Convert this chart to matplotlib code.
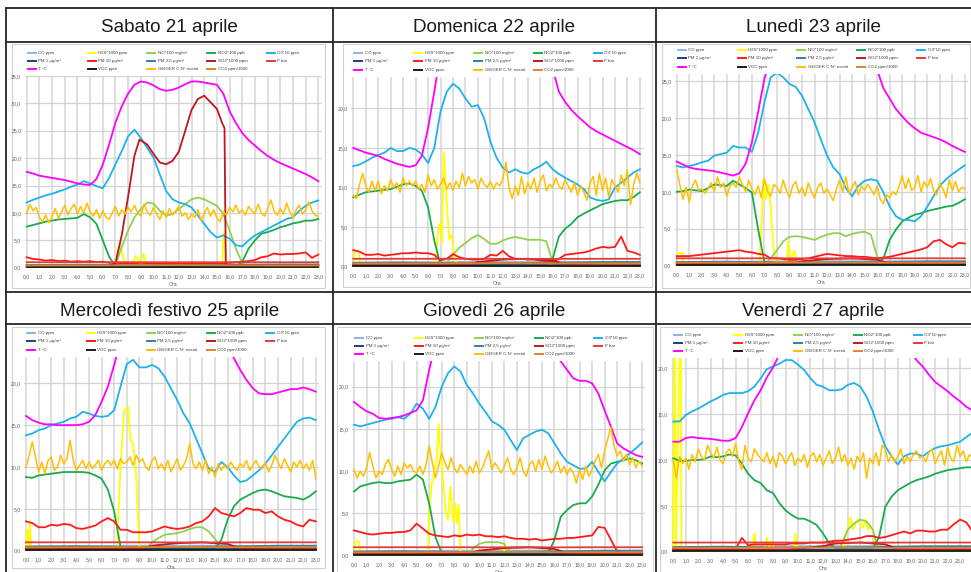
import numpy as np
import matplotlib
matplotlib.use("Agg")
import matplotlib.pyplot as plt
from matplotlib.lines import Line2D
from matplotlib.patches import Rectangle
from matplotlib.ticker import FuncFormatter

plt.rcParams['font.family'] = ['Liberation Sans', 'DejaVu Sans']

W, H = 971, 572

# ---------------- labels ----------------
titles = ["Sabato 21 aprile", "Domenica 22 aprile", "Lunedì 23 aprile",
          "Mercoledì festivo 25 aprile", "Giovedì 26 aprile", "Venerdì 27 aprile"]
series_keys = ["CO", "H2S", "NO", "NO2", "O3", "PM1", "PM10", "PM25", "SO2", "P",
               "T", "VOC", "GEIGER", "CO2"]
legend_labels = ["CO ppm", "H2S*1000 ppm", "NO*100 mg/m³", "NO2*100 ppb", "O3*10 ppm",
                 "PM 1 µg/m³", "PM 10 µg/m³", "PM 2,5 µg/m³", "SO2*1000 ppm", "P bar",
                 "T °C", "VOC ppm", "GEIGER C N° eventi", "CO2 ppm/1000"]
hour_ticks = list(range(24))

# ---------------- data: Sabato 21 ----------------
sab_T = [17.5,17.2,16.8,16.6,16.4,16.2,16.0,15.7,15.4,15.2, 15.1,16.2,18.8,22.5,26.5,29.5,31.8,33.4,34.0,33.8,
         33.3,32.6,32.3,32.5,32.9,33.5,34.0,34.0,33.8,33.6, 33.4,31.8,28.6,26.4,24.6,23.3,22.3,21.3,20.4,19.7,
         19.1,18.6,18.1,17.6,17.1,16.5,15.8]
sab_O3 = [11.9,12.4,12.8,13.2,13.5,13.9,14.3,14.8,15.2,15.8, 15.4,14.9,14.5,16.4,18.9,21.3,24.0,25.2,23.7,21.9,
          20.1,17.0,14.0,12.5,11.9,11.6,11.0,9.5,8.0,6.5, 5.5,5.9,5.3,4.1,3.9,5.0,5.9,6.5,7.1,7.7,
          8.3,8.9,9.2,10.4,11.3,11.9,12.3]
sab_NO2 = [7.5,7.8,8.1,8.4,8.6,8.8,8.9,9.0,9.1,9.8, 9.2,8.0,5.0,2.0,0.3,0.2,0.2,0.2,0.2,0.2,
           0.2,0.2,0.2,0.2,0.2,0.2,0.2,0.2,0.2,0.2, 0.2,0.2,0.2,0.2,1.1,3.5,5.0,6.2,6.5,6.9,
           7.4,7.7,8.1,8.3,8.6,8.6,8.9]
sab_NO = [0.1,0.1,0.1,0.1,0.1,0.1,0.1,0.1,0.1,0.1, 0.1,0.1,0.1,0.1,0.5,3.8,6.8,9.2,10.7,11.9,
          11.7,10.4,9.5,9.8,10.7,11.6,12.5,12.8,12.5,11.9, 11.3,9.8,6.8,3.5,0.8,0.1,0.1,0.1,0.1,0.1,
          0.1,0.1,0.1,0.1,0.1,0.1,0.1]
sab_PM10 = [1.9,1.6,1.5,1.3,1.4,1.2,1.3,1.1,1.2,1.1, 1.2,1.0,1.1,0.9,0.9,0.8,0.8,0.8,0.9,0.8,
            0.8,0.7,0.8,0.7,0.8,0.7,0.8,0.7,0.8,0.7, 0.8,0.8,0.9,1.0,1.1,1.2,1.4,1.9,2.1,2.6,
            2.4,2.5,2.5,2.6,2.8,1.8,2.4]
sab_SO2_x = [0, 6.5, 7.0, 7.5, 8.0, 8.5, 8.9, 9.5, 10, 10.5, 11, 11.5, 12, 12.5, 13, 13.5, 14.0, 14.5,
             15.0, 15.4, 15.6, 15.7, 16.0, 23.0]
sab_SO2 = [0.3, 0.3, 0.8, 6.0, 13.0, 20.5, 23.4, 22.5, 20.8, 19.2, 18.9, 19.5, 21.2, 25.0, 28.8, 30.8,
           31.4, 30.2, 29.0, 26.5, 25.5, 0.5, 0.4, 0.4]
sab_H2S_x = [0, 6.9, 7.1, 7.3, 7.5, 7.7, 7.9, 8.3, 8.6, 8.8, 9.0, 9.2, 9.4, 9.6, 15.4, 15.55, 15.65, 15.8, 23.0]
sab_H2S = [0, 0, 2.0, 4.5, 3.0, 1.2, 0.5, 0.3, 2.2, 1.4, 0.6, 2.6, 1.0, 0.2, 0, 6.5, 4.0, 0, 0]
sab_GEIGER = [9.8,11.6,10.4,11.0,9.2,8.4,9.6,8.2,9.4,10.8,9.0,10.2,11.4,9.6,10.8,11.6,9.8,11.2,10.0,11.8,
              10.2,9.4,10.6,9.0,10.4,9.2,8.8,10.0,11.2,9.4,10.6,9.8,11.0,10.2,11.4,10.0,9.4,11.6,10.2,9.6,
              11.0,9.8,8.8,10.4,9.2,10.8,9.6,10.4,11.2,9.4,10.0,8.8,9.8,9.2,10.6,8.6,9.8,11.0,9.4,10.6,
              9.0,8.4,10.2,9.6,11.0,10.2,11.4,10.0,10.6,9.6,11.2,10.4,9.8,11.6,10.0,9.4,10.8,12.4,10.4,9.6,
              10.8,9.8,11.8,10.2,9.0,10.6,11.4,9.8,10.6,12.0,10.4,9.6,9.4]

# ---------------- data: Domenica 22 ----------------
dom_T = [15.0,14.7,14.4,14.2,14.0,13.6,13.3,13.0,12.8,12.6, 12.8,14.0,17.5,22.1,27.0,29.0,30.5,31.5,32.0,32.5,
         33.0,33.0,33.0,33.0,33.0,33.0,32.5,32.0,31.5,31.0, 30.0,28.0,25.0,22.1,20.8,19.8,19.0,18.3,17.6,17.1,
         16.7,16.3,15.9,15.5,15.1,14.7,14.2]
dom_O3 = [12.7,12.9,13.3,13.75,14.1,14.4,15.0,14.6,14.6,15.0, 14.8,14.2,13.1,15.0,19.6,22.1,23.1,22.5,21.25,20.2,
          20.4,18.75,15.8,13.75,12.5,11.9,12.3,11.9,11.75,12.3, 12.7,13.25,12.3,11.7,11.25,10.8,10.4,9.8,8.75,8.45,
          8.3,8.5,10.0,10.6,11.25,11.9,12.3]
dom_NO2 = [8.75,9.1,9.4,9.5,9.6,9.7,9.8,10.1,10.4,10.5, 10.2,9.6,7.5,3.3,0.2,0.2,0.2,0.2,0.2,0.2,
           0.2,0.2,0.2,0.2,0.2,0.2,0.2,0.2,0.2,0.2, 0.2,0.2,1.0,3.8,4.8,5.4,6.25,6.7,7.1,7.5,
           7.9,8.1,8.3,8.4,8.4,8.8,9.4]
dom_NO = [0.1,0.1,0.1,0.1,0.1,0.1,0.1,0.1,0.1,0.1, 0.1,0.1,0.1,0.1,0.1,0.5,1.5,2.4,3.0,3.6,
          4.0,3.5,2.9,2.9,3.3,3.6,3.75,3.6,3.4,3.4, 3.4,3.2,0.5,0.1,0.1,0.1,0.1,0.1,0.1,0.1,
          0.1,0.1,0.1,0.1,0.1,0.1,0.1]
dom_PM10 = [2.1,1.9,1.5,1.5,1.6,1.4,1.5,1.6,1.7,1.7, 1.8,1.7,1.7,1.5,0.8,1.0,1.6,1.2,1.0,0.9,
            0.9,1.0,1.5,1.4,2.0,1.3,1.0,1.0,0.9,0.9, 0.8,0.7,0.6,1.0,1.5,1.6,1.7,1.8,2.0,2.3,
            2.5,2.4,2.5,3.8,2.0,1.8,1.5]
dom_H2S_x = [0, 0.1, 0.3, 0.45, 0.55, 0.7, 6.6, 6.8, 7.0, 7.1, 7.25, 7.5, 7.7, 7.9, 8.1, 8.3, 23.0]
dom_H2S = [0, 2.0, 2.0, 1.8, 0.2, 0, 0, 4.5, 5.5, 3.0, 14.5, 8.0, 3.5, 4.0, 1.5, 0.2, 0]
dom_GEIGER = [9.0,8.6,10.4,11.8,10.2,9.4,10.8,9.6,10.8,9.2,10.2,9.6,11.0,10.0,10.6,9.4,11.2,10.2,10.8,10.2,
              10.8,9.8,10.4,9.4,11.6,10.2,11.0,9.8,10.4,11.2,9.8,10.6,9.6,10.8,10.0,11.8,10.2,11.4,10.6,11.0,
              9.8,11.2,10.4,10.0,10.8,9.8,10.6,10.2,11.0,13.2,10.0,8.6,10.2,9.0,11.4,9.2,10.6,9.8,11.2,9.4,
              10.8,11.6,9.6,10.4,10.0,11.2,10.2,9.8,11.0,10.2,9.4,10.6,9.0,10.2,9.4,8.4,10.6,11.4,9.0,11.8,
              9.6,11.2,8.8,11.0,10.2,9.4,11.6,10.2,12.2,7.8,10.4,11.8,10.6]

# ---------------- data: Lunedì 23 ----------------
lun_T = [14.1,13.7,13.3,13.1,13.0,12.9,12.8,12.6,12.4,12.2, 12.5,13.8,16.7,20.8,25.3,28.0,30.0,31.0,32.0,32.5,
         33.0,33.0,33.0,33.0,33.0,33.0,32.5,32.0,31.5,31.0, 30.5,30.0,26.5,24.0,22.6,21.2,20.2,19.3,18.6,18.0,
         17.7,17.4,17.1,16.7,16.2,15.8,15.4]
lun_O3 = [13.5,13.3,13.5,13.7,14.0,14.2,14.9,15.1,15.3,16.2, 16.0,16.0,15.4,18.0,22.1,25.5,26.1,25.5,24.6,24.2,
          23.0,21.2,19.4,17.1,14.9,13.3,12.4,10.5,9.4,10.8, 11.5,11.7,11.5,9.9,8.0,6.7,6.2,6.2,6.0,6.7,
          8.0,9.4,10.8,11.7,12.4,13.0,13.6]
lun_NO2 = [10.0,10.1,10.3,10.2,10.1,10.5,11.0,10.9,10.8,11.5, 11.0,10.5,9.9,4.9,0.5,0.3,0.3,0.3,0.3,0.3,
           0.3,0.3,0.3,0.3,0.3,0.3,0.3,0.3,0.3,0.3, 0.3,0.3,0.3,1.0,3.5,4.9,6.0,6.5,6.9,7.1,
           7.4,7.6,7.8,8.0,8.1,8.5,9.0]
lun_NO = [0.1,0.1,0.1,0.1,0.1,0.1,0.1,0.1,0.1,0.1, 0.1,0.1,0.1,0.1,0.1,1.0,2.1,3.3,3.9,4.0,
          3.9,3.7,3.5,3.9,4.2,4.4,4.4,4.0,4.3,4.5, 4.6,4.2,1.2,0.1,0.1,0.1,0.1,0.1,0.1,0.1,
          0.1,0.1,0.1,0.1,0.1,0.1,0.1]
lun_PM10 = [1.3,1.3,1.3,1.4,1.5,1.6,1.7,1.8,1.9,2.0, 2.1,1.9,1.8,1.6,1.5,1.0,1.0,0.9,0.8,0.8,
            0.9,1.0,1.2,1.4,1.6,1.5,1.4,1.3,1.3,1.2, 1.2,1.1,1.0,1.1,1.2,1.4,1.6,1.8,2.0,2.2,
            2.5,3.3,3.5,2.9,2.5,3.1,3.0]
lun_H2S_x = [0, 0.5, 0.55, 6.6, 6.8, 6.9, 7.1, 7.3, 7.5, 7.7, 7.9, 8.8, 8.9, 9.1, 9.4, 9.6, 23.0]
lun_H2S = [1.7, 1.7, 0, 0, 6.0, 11.7, 9.0, 11.0, 8.0, 3.0, 0.5, 0.5, 3.3, 1.0, 2.0, 0.3, 0]
lun_GEIGER = [13.0,11.0,9.0,10.6,8.6,10.8,11.6,10.2,10.4,9.8,10.4,11.2,10.0,12.0,10.6,11.2,9.4,10.8,11.2,10.6,
              12.0,11.0,10.0,11.6,10.4,9.6,10.8,9.2,11.8,10.0,9.4,11.0,10.6,9.8,11.6,10.2,9.2,10.8,11.4,9.8,
              10.6,9.4,11.2,10.0,9.2,10.6,11.2,9.8,10.4,9.6,8.8,10.4,11.6,10.0,12.0,9.8,10.6,11.4,9.6,10.8,
              10.2,11.0,10.4,9.6,10.8,9.0,8.4,9.6,9.2,10.0,9.6,10.8,12.2,10.4,11.8,10.2,10.6,12.2,10.0,11.4,
              10.6,11.8,10.2,9.6,11.2,10.4,9.2,11.6,10.2,11.4,10.0,10.6,10.4]

# ---------------- data: Mercoledì 25 ----------------
mer_T = [16.1,15.6,15.3,15.1,15.1,15.0,15.0,15.0,15.0,15.1, 15.4,16.2,17.8,19.6,22.2,25.0,28.0,30.0,31.0,32.0,
         32.0,32.0,32.0,32.0,32.0,32.0,31.5,31.0,30.0,29.0, 27.5,26.0,24.5,23.0,21.6,20.4,19.4,18.8,18.7,18.7,
         18.9,19.1,19.3,19.3,19.5,19.3,19.0]
mer_O3 = [13.8,14.0,14.4,14.6,15.0,15.2,15.4,15.8,16.0,16.6, 16.4,16.1,16.0,16.1,16.8,19.6,22.3,22.8,21.9,21.9,
          22.2,21.8,20.8,19.4,18.0,16.4,15.2,13.4,11.6,9.8, 9.4,10.6,10.0,9.0,8.2,8.4,9.0,9.6,10.4,11.4,
          12.4,13.4,14.4,15.4,15.8,15.9,15.6]
mer_NO2 = [8.8,8.7,9.0,9.1,9.2,9.3,9.4,9.4,9.4,9.4, 9.3,9.0,8.6,7.3,4.7,0.5,0.3,0.3,0.3,0.3,
           0.3,0.3,0.3,0.3,0.3,0.3,0.3,0.3,0.3,0.3, 0.3,1.3,3.7,5.3,6.1,6.5,6.9,7.2,7.3,7.1,
           6.8,6.5,6.4,6.3,6.1,6.5,7.1]
mer_NO = [0.1,0.1,0.1,0.1,0.1,0.1,0.1,0.1,0.1,0.1, 0.1,0.1,0.1,0.1,0.1,0.1,0.1,0.1,0.1,0.1,
          1.0,1.5,1.9,2.0,2.1,2.3,2.6,2.8,2.8,2.3, 1.4,0.3,0.1,0.1,0.1,0.1,0.1,0.1,0.1,0.1,
          0.1,0.1,0.1,0.1,0.1,0.1,0.1]
mer_PM10 = [3.5,3.3,2.8,2.8,3.1,3.0,3.2,3.1,2.7,2.6, 2.8,3.0,3.5,3.9,3.5,2.5,2.5,2.2,2.2,2.2,
            2.3,2.6,2.9,2.7,2.6,2.7,2.9,3.3,3.5,4.1, 5.1,4.5,4.3,4.1,4.5,5.1,4.9,4.9,4.5,4.7,
            4.1,3.7,3.5,3.1,2.9,3.7,3.5]
mer_H2S_x = [0, 0.1, 0.2, 0.3, 0.4, 0.5, 7.2, 7.5, 7.8, 8.1, 8.3, 8.5, 8.7, 9.0, 9.1, 23.0]
mer_H2S = [0, 2.5, 0.5, 3.5, 0.3, 0, 0, 10.0, 16.8, 17.2, 13.2, 12.8, 10.0, 0.5, 0, 0]
mer_GEIGER = [10.0,11.4,13.0,11.2,9.4,10.6,9.2,10.8,11.2,9.6,10.0,11.4,10.4,11.0,13.2,10.8,9.6,10.2,10.8,9.8,
              10.6,9.8,10.2,10.8,9.6,10.4,10.8,10.2,10.8,9.8,11.0,10.4,10.6,11.2,10.2,11.4,10.6,11.0,10.0,9.6,
              10.8,11.2,9.8,10.4,9.6,10.8,9.4,10.2,11.0,9.6,10.2,11.0,12.8,10.4,9.8,10.6,9.6,10.8,9.2,10.0,
              8.8,10.4,9.6,10.2,9.8,10.6,10.0,9.6,10.4,10.0,10.8,9.6,10.2,10.8,10.0,9.8,10.6,9.4,10.2,11.4,
              10.6,9.8,11.0,10.2,9.4,10.6,10.0,10.8,9.8,10.4,9.6,10.8,8.6]

# ---------------- data: Giovedì 26 ----------------
gio_T = [18.2,17.6,17.1,16.8,16.3,16.2,16.3,16.4,16.6,16.9, 17.2,18.4,22.0,25.0,28.0,30.0,31.0,32.0,32.0,32.0,
         32.0,32.0,32.0,32.0,32.0,31.5,31.0,30.0,29.0,28.0, 27.0,25.5,24.0,23.0,22.0,21.0,20.7,20.7,20.4,19.2,
         17.2,15.3,13.3,12.7,12.3,11.9,11.7]
gio_O3 = [15.5,15.3,15.5,15.7,15.9,16.1,16.2,16.4,16.2,16.8, 18.0,17.4,16.2,17.6,20.0,21.6,22.4,21.8,20.2,19.2,
          18.0,17.0,15.9,15.5,14.9,13.7,12.5,13.9,14.3,14.7, 14.9,14.5,13.3,12.1,11.1,10.7,10.3,10.3,11.1,9.9,
          8.8,9.9,10.9,11.5,12.1,12.7,13.4]
gio_NO2 = [7.6,8.2,8.4,8.6,8.7,8.6,8.6,8.8,8.9,9.0, 9.6,9.0,6.2,2.2,0.3,0.3,0.3,0.3,0.3,0.3,
           0.3,0.3,0.3,0.3,0.3,0.3,0.3,0.3,0.3,0.3, 0.3,0.3,1.9,4.6,5.4,6.0,6.2,6.2,7.0,8.4,
           10.1,10.9,11.1,11.3,11.5,11.3,10.9]
gio_NO_x = [0, 9.2, 9.5, 10, 10.5, 11, 11.5, 12, 12.2, 12.5, 13, 14, 15, 15.5, 15.9, 23]
gio_NO = [0.1, 0.1, 0.9, 1.4, 1.6, 1.6, 1.6, 1.4, 0.5, 1.0, 1.0, 1.0, 1.0, 0.9, 0.2, 0.1]
gio_PM10 = [3.0,2.8,2.6,2.5,2.6,2.7,2.7,2.8,2.8,3.0, 3.8,3.2,2.6,2.4,2.3,2.2,2.4,2.3,2.5,2.4,
            2.5,2.3,2.3,2.2,2.3,2.1,2.0,2.0,1.9,2.0, 1.8,1.9,2.0,2.0,2.1,2.1,2.2,2.3,2.4,3.4,
            3.3,1.9,0.5,0.3,0.3,0.3,0.3]
gio_H2S_x = [0, 0.1, 0.4, 0.5, 5.9, 6.0, 6.2, 6.4, 6.6, 6.75, 6.9, 7.1, 7.3, 7.5, 7.7, 7.9, 8.1, 8.2,
             8.35, 8.5, 11.9, 12.0, 12.1, 23]
gio_H2S = [0, 1.7, 1.7, 0, 0, 5.4, 8.5, 10.0, 11.5, 15.6, 12.5, 9.0, 5.5, 4.2, 8.2, 4.0, 6.2, 3.8,
           6.0, 0.3, 0, 1.5, 0, 0]
gio_GEIGER = [10.2,9.2,10.0,9.4,10.4,12.2,10.6,9.2,10.0,9.6,10.8,11.4,10.2,9.4,10.6,9.6,11.0,10.4,10.8,10.0,
              9.8,10.6,9.6,10.8,13.0,11.0,9.2,10.6,12.2,11.0,10.2,11.6,10.4,9.8,10.8,10.2,9.6,10.6,9.8,11.2,
              9.8,10.4,11.4,12.4,10.2,11.0,10.4,9.8,10.6,11.6,10.2,9.6,10.4,11.6,10.0,9.4,10.8,11.2,10.0,11.4,
              10.2,11.8,10.6,9.8,10.4,11.2,9.8,10.6,9.6,10.4,9.8,8.6,10.2,9.0,10.6,9.4,10.2,11.2,12.0,10.4,
              12.4,13.8,15.2,13.0,11.8,12.4,11.2,12.0,10.8,11.6,10.4,11.2,10.6]

# ---------------- data: Venerdì 27 ----------------
ven_T = [12.0,12.0,12.4,12.5,12.4,12.35,12.3,12.2,12.1,12.1, 12.4,13.6,15.1,16.5,17.6,19.0,20.1,21.5,23.0,24.0,
         25.0,26.0,27.0,27.5,28.0,28.0,28.0,28.0,27.5,27.0, 26.5,26.0,25.5,25.0,24.5,24.0,23.5,22.8,21.8,20.9,
         20.2,19.3,18.5,18.0,17.5,16.9,16.4,15.8,15.4]
ven_O3 = [14.2,14.2,14.9,15.3,15.6,16.0,16.4,16.7,17.1,17.3, 17.3,17.3,17.5,18.0,18.9,19.9,20.2,20.5,20.9,20.9,
          20.4,19.8,18.9,18.2,18.0,17.6,17.6,17.7,18.2,18.4, 18.0,16.9,15.3,13.3,11.5,10.4,9.5,10.4,10.7,10.7,
          10.4,10.9,11.3,11.5,11.6,11.8,12.0,12.5,13.0]
ven_NO2 = [10.2,9.9,9.9,10.0,10.0,10.1,10.4,10.3,10.4,10.6, 10.5,9.6,8.5,7.8,7.5,6.7,6.4,5.3,4.5,4.0,
           3.6,3.6,3.3,2.9,2.0,0.9,0.4,0.3,0.3,0.3, 0.3,0.3,0.3,1.6,4.9,6.0,6.7,7.1,7.5,7.8,
           8.0,8.2,8.5,8.7,8.9,9.0,9.1,9.2,9.2]
ven_NO_x = [0, 13.3, 13.5, 14, 14.5, 15, 15.5, 16, 16.3, 16.5, 24]
ven_NO = [0.1, 0.1, 0.9, 2.4, 3.1, 3.5, 3.3, 2.4, 0.9, 0.2, 0.1]
ven_PM10 = [0.3,0.3,0.3,0.3,0.3,0.3,0.3,0.3,0.3,0.3, 0.3,1.5,0.7,0.8,0.8,0.8,0.8,0.8,0.8,0.9,
            0.9,0.9,1.0,1.0,1.0,1.1,1.2,1.2,1.3,1.4, 1.5,1.7,1.7,1.5,1.6,1.8,2.0,2.2,2.0,2.3,
            2.3,2.2,2.2,2.4,2.4,3.0,3.5,3.2,2.2]
ven_H2S_x = [0, 0.1, 0.15, 0.2, 0.55, 0.6, 0.65, 5.8, 6.0, 6.2, 6.4, 6.5, 6.7, 7.3, 7.5, 7.7, 7.9, 8.1, 8.3,
             9.7, 9.8, 9.95, 13.6, 13.8, 14.0, 14.2, 14.4, 14.6, 14.8, 15.0, 15.2, 15.4, 15.6, 15.8, 16.0,
             16.2, 16.4, 24]
ven_H2S = [0, 25, 25, 0, 25, 25, 0, 0, 1.0, 0.2, 0.8, 2.0, 0.3, 0.3, 1.5, 0.3, 1.2, 0.3, 0,
           0, 2.0, 0, 0, 1.6, 2.5, 3.8, 2.4, 3.0, 3.5, 3.1, 2.6, 3.5, 2.4, 2.8, 2.4, 0.9, 0, 0]
ven_GEIGER = [10.0,8.0,10.4,9.6,10.2,9.0,10.6,9.8,11.2,10.4,10.0,11.6,10.8,10.2,11.4,10.0,9.6,10.8,11.2,10.4,
              11.8,9.8,9.0,11.6,10.2,9.8,11.2,10.6,10.2,9.8,10.8,9.6,10.4,9.2,10.8,10.4,9.6,10.2,10.8,9.4,
              10.2,9.8,10.6,9.2,10.4,10.8,9.8,10.6,9.4,10.2,11.0,9.6,10.2,11.4,9.8,10.6,9.4,10.2,9.0,10.4,
              9.8,10.8,8.0,10.2,9.6,10.8,9.4,11.6,11.2,9.8,10.6,9.8,10.4,11.2,9.6,10.4,9.8,10.6,11.0,10.2,
              10.4,9.8,10.8,11.2,9.6,10.4,11.0,9.4,11.4,10.2,9.8,11.6,10.4,11.0,9.8,10.6,10.2]

# ---------------- low-level series (sparse readings) ----------------
low_x = [0, 4, 8, 12, 16, 20, 23]
low_x6 = [0, 4, 8, 12, 16, 20, 24]
low_CO = [0.5, 0.5, 0.6, 0.6, 0.6, 0.5, 0.5]
low_PM1 = [0.25, 0.25, 0.2, 0.2, 0.2, 0.3, 0.3]
low_PM25 = [0.5, 0.55, 0.45, 0.45, 0.5, 0.6, 0.6]
low_VOC = [0.05, 0.05, 0.05, 0.05, 0.05, 0.05, 0.05]
low_CO2 = [0.4, 0.4, 0.42, 0.45, 0.42, 0.4, 0.4]
low_P = [1.0, 1.0, 1.0, 0.99, 0.99, 1.0, 1.0]
so2_x = [0, 9, 10, 12, 14, 16, 17, 23]
so2_x6 = [0, 9, 12, 13, 15, 17, 18, 24]
so2_low = [0.2, 0.2, 0.6, 0.9, 1.0, 0.8, 0.3, 0.2]

colors = {"CO": "#8db4e2", "H2S": "#ffff00", "NO": "#92d050", "NO2": "#1aac4c", "O3": "#1fb2ea",
          "PM1": "#1f3d7a", "PM10": "#ff1a1a", "PM25": "#31849b", "SO2": "#c0161c", "P": "#e23b3b",
          "T": "#ff00ff", "VOC": "#1a1a1a", "GEIGER": "#ffc000", "CO2": "#e3812b"}


def hh(v):
    return (np.arange(len(v)) * 0.5, v)


def qh(v):
    return (np.arange(len(v)) * 0.25, v)


def panel_series(T, O3, NO2, NO, PM10, H2S, SO2, GEIGER, lx):
    return {"CO": (lx, low_CO), "H2S": H2S, "NO": NO, "NO2": NO2, "O3": O3,
            "PM1": (lx, low_PM1), "PM10": PM10, "PM25": (lx, low_PM25), "SO2": SO2,
            "P": (lx, low_P), "T": T, "VOC": (lx, low_VOC), "GEIGER": GEIGER, "CO2": (lx, low_CO2)}


panels_data = [
    panel_series(hh(sab_T), hh(sab_O3), hh(sab_NO2), hh(sab_NO), hh(sab_PM10), (sab_H2S_x, sab_H2S),
                 (sab_SO2_x, sab_SO2), qh(sab_GEIGER), low_x),
    panel_series(hh(dom_T), hh(dom_O3), hh(dom_NO2), hh(dom_NO), hh(dom_PM10), (dom_H2S_x, dom_H2S),
                 (so2_x, so2_low), qh(dom_GEIGER), low_x),
    panel_series(hh(lun_T), hh(lun_O3), hh(lun_NO2), hh(lun_NO), hh(lun_PM10), (lun_H2S_x, lun_H2S),
                 (so2_x, so2_low), qh(lun_GEIGER), low_x),
    panel_series(hh(mer_T), hh(mer_O3), hh(mer_NO2), hh(mer_NO), hh(mer_PM10), (mer_H2S_x, mer_H2S),
                 (so2_x, so2_low), qh(mer_GEIGER), low_x),
    panel_series(hh(gio_T), hh(gio_O3), hh(gio_NO2), (gio_NO_x, gio_NO), hh(gio_PM10), (gio_H2S_x, gio_H2S),
                 (so2_x, so2_low), qh(gio_GEIGER), low_x),
    panel_series(hh(ven_T), hh(ven_O3), hh(ven_NO2), (ven_NO_x, ven_NO), hh(ven_PM10), (ven_H2S_x, ven_H2S),
                 (so2_x6, so2_low), qh(ven_GEIGER), low_x6),
]

# ---------------- layout (pixels) ----------------
# x0: px of hour 0, pph: px per hour, y0: px of value 0, ppu: px per unit
geom = [
    dict(x0=26.7, pph=12.68, xlim=(-0.15, 23.25), y0=267.7, ppu=5.477, ymax=35.0, box=(12, 44, 325, 288)),
    dict(x0=353.3, pph=12.46, xlim=(-0.15, 23.3), y0=266.7, ppu=7.92, ymax=24.0, box=(343, 44, 652, 287)),
    dict(x0=676.7, pph=12.53, xlim=(-0.15, 23.25), y0=265.7, ppu=7.388, ymax=26.0, box=(662, 44, 970, 288)),
    dict(x0=26.0, pph=12.6, xlim=(-0.15, 23.25), y0=550.7, ppu=8.37, ymax=23.2, box=(12, 327, 325, 568)),
    dict(x0=354.0, pph=12.53, xlim=(-0.15, 23.25), y0=555.7, ppu=8.45, ymax=23.0, box=(337, 327, 653, 575)),
    dict(x0=673.3, pph=12.47, xlim=(-0.15, 24.1), y0=551.7, ppu=9.17, ymax=21.1, box=(660, 327, 975, 575)),
]
title_pos = [(169.5, 31.5), (494.5, 31.5), (813.5, 31.5), (169.5, 316.5), (494.5, 316.5), (813.5, 316.5)]


def fx(x):
    return x / W


def fy(y):
    return 1 - y / H


fig = plt.figure(figsize=(W / 100, H / 100), dpi=100)
fig.patch.set_facecolor("white")

# table lines
line_col = "#262626"
for y in [8, 42, 292, 324]:
    fig.add_artist(Line2D([fx(6), fx(971)], [fy(y), fy(y)], transform=fig.transFigure, color=line_col, lw=1.3))
for x in [6, 333, 656]:
    fig.add_artist(Line2D([fx(x), fx(x)], [fy(8), fy(572)], transform=fig.transFigure, color=line_col, lw=1.3))

for t, (tx, ty) in zip(titles, title_pos):
    fig.text(fx(tx), fy(ty), t, ha="center", va="baseline", fontsize=13.6, color="#1a1a1a")

fmt = FuncFormatter(lambda v, p: f"{v:.1f}".replace(".", ","))

for g, data in zip(geom, panels_data):
    bx0, by0, bx1, by1 = g["box"]
    fig.add_artist(Rectangle((fx(bx0), fy(by1)), (bx1 - bx0) / W, (by1 - by0) / H,
                             transform=fig.transFigure, fill=True, facecolor="white",
                             edgecolor="#d0d0d0", lw=0.8, zorder=0))
    left = g["x0"] + g["xlim"][0] * g["pph"]
    right = g["x0"] + g["xlim"][1] * g["pph"]
    bottom = g["y0"]
    top = g["y0"] - g["ymax"] * g["ppu"]
    ax = fig.add_axes([fx(left), fy(bottom), (right - left) / W, (bottom - top) / H])
    ax.set_facecolor("none")
    ax.set_xlim(*g["xlim"])
    ax.set_ylim(0, g["ymax"])
    ax.set_xticks(hour_ticks)
    ax.set_yticks(np.arange(0, g["ymax"] + 0.01, 5))
    ax.xaxis.set_major_formatter(fmt)
    ax.yaxis.set_major_formatter(fmt)
    ax.grid(True, axis="x", color="#dcdcdc", lw=1.3)
    ax.grid(True, axis="y", color="#d4d4d4", lw=0.9)
    ax.set_axisbelow(True)
    for s in ax.spines.values():
        s.set_visible(False)
    ax.tick_params(axis="both", length=0, labelsize=3.7, colors="#606060")
    ax.tick_params(axis="x", pad=4.5)
    ax.tick_params(axis="y", pad=2.5)
    ax.set_xlabel("Ora", fontsize=3.7, color="#606060", labelpad=2)

    for key in series_keys:
        xs, ys = data[key]
        lw = 1.1 if key == "GEIGER" else 1.3
        ax.plot(xs, ys, color=colors[key], lw=lw, solid_joinstyle="round")

    # legend (3 rows x 5 columns)
    for i, (key, lab) in enumerate(zip(series_keys, legend_labels)):
        r, c = divmod(i, 5)
        lx = left + 3 + 59.8 * c
        ly = top - 23.5 + 8.3 * r
        fig.add_artist(Line2D([fx(lx), fx(lx + 8)], [fy(ly), fy(ly)], transform=fig.transFigure,
                              color=colors[key], lw=1.4))
        fig.text(fx(lx + 10.5), fy(ly), lab, fontsize=3.2, color="#404040", va="center", ha="left")

fig.savefig("out.png", dpi=100, facecolor="white")
